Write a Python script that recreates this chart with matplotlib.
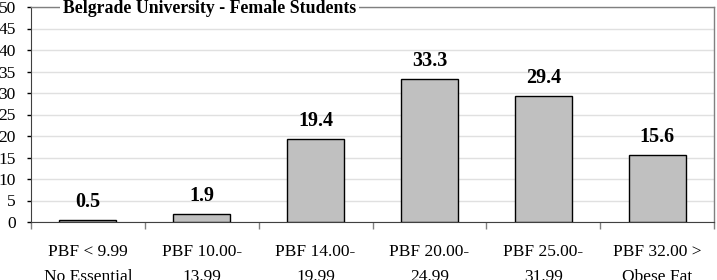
import numpy as np
import matplotlib
matplotlib.use('Agg')
import matplotlib.pyplot as plt

categories = ['PBF < 9.99\nNo Essential', 'PBF 10.00-\n13.99', 'PBF 14.00-\n19.99',
              'PBF 20.00-\n24.99', 'PBF 25.00-\n31.99', 'PBF 32.00 >\nObese Fat']
values = [0.5, 1.9, 19.4, 33.3, 29.4, 15.6]
title = 'Belgrade University - Female Students'

plt.rcParams['font.family'] = ['Liberation Serif', 'DejaVu Serif']

fig = plt.figure(figsize=(7.17, 2.8), dpi=100)
ax = fig.add_axes([31 / 717, 1 - 222 / 280, 683 / 717, 215 / 280])

x = np.arange(len(values))
ax.bar(x, values, width=0.5, color='#c0c0c0', edgecolor='black', linewidth=1, zorder=3)

# value labels above bars
for xi, v in zip(x, values):
    ax.annotate(f'{v:.1f}', (xi, v), xytext=(0, 13), textcoords='offset points',
                ha='center', va='center', fontsize=14.5, fontweight='bold', zorder=4)

ax.set_xlim(-0.5, len(values) - 0.5)
ax.set_ylim(0, 50)
ax.set_yticks(np.arange(0, 51, 5))
ax.yaxis.grid(True, color='#e0e0e0', linewidth=1, zorder=0)

# ticks at category boundaries, labels at centres
ax.set_xticks(np.arange(-0.5, len(values), 1.0))
ax.set_xticklabels([])
ax.set_xticks(x, minor=True)
ax.set_xticklabels(categories, minor=True, fontsize=12.5, linespacing=1.75)
ax.tick_params(axis='x', which='minor', length=0, pad=16)
ax.tick_params(axis='x', which='major', length=5, width=1, color='#808080')
ax.tick_params(axis='y', length=3, width=1, labelsize=12.5, pad=8)

for s in ['top', 'right']:
    ax.spines[s].set_color('#808080')
    ax.spines[s].set_linewidth(1)
ax.spines['left'].set_color('#404040')
ax.spines['bottom'].set_color('#404040')

ax.text(0.047, 0.993, title, transform=ax.transAxes, ha='left', va='center',
        fontsize=12.8, fontweight='bold', zorder=5,
        bbox=dict(facecolor='white', edgecolor='none', pad=2))

fig.savefig('out.png', dpi=100)
